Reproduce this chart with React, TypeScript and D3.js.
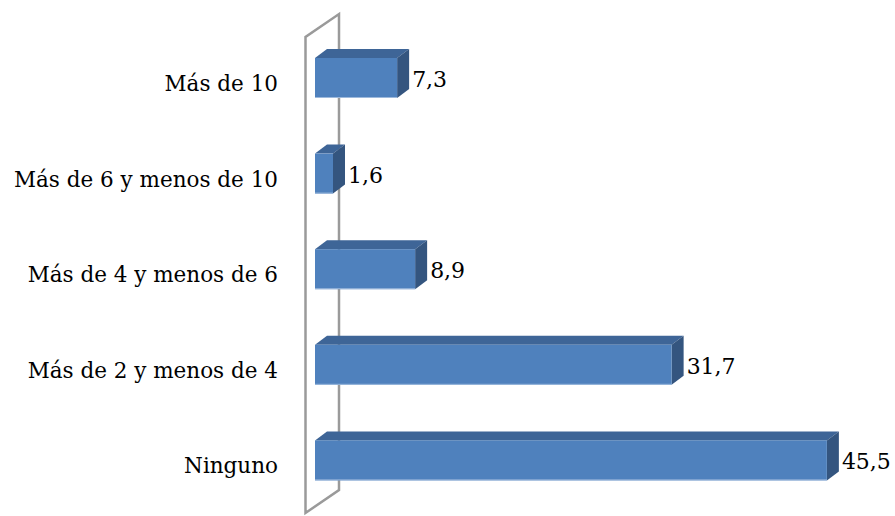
import React from "react";
import * as d3 from "d3";

const categories = ["Más de 10", "Más de 6 y menos de 10", "Más de 4 y menos de 6", "Más de 2 y menos de 4", "Ninguno"];
const values = [7.3, 1.6, 8.9, 31.7, 45.5];
const valueLabels = ["7,3", "1,6", "8,9", "31,7", "45,5"];

const W = 895, H = 516;
const x = d3.scaleLinear().domain([0, 50]).range([315, 877.5]);
const y = d3.scalePoint<string>().domain(categories).range([78, 460.4]);
const barH = 40;
const dX = 12, dY = -9;
const wallX = 305.5, wallDX = 33.5, wallDY = -23, wallTop = 37, wallBottom = 513;
const font = "'DejaVu Serif', 'Liberation Serif', serif";

export default function App() {
  const x0 = x(0);
  const wall = `M${wallX},${wallTop} L${wallX},${wallBottom} L${wallX + wallDX},${wallBottom + wallDY} L${wallX + wallDX},${wallTop + wallDY} Z`;
  return (
    <svg width={W} height={H} style={{ position: "absolute", left: 0, top: 0 }}>
      <rect width={W} height={H} fill="#fff" />
      <path d={wall} fill="none" stroke="#9a9a9a" strokeWidth={2.5} strokeLinejoin="miter" />
      {categories.map((c, i) => {
        const cy = y(c)!;
        const top = cy - barH / 2;
        const bot = cy + barH / 2;
        const xr = x(values[i]);
        return (
          <g key={c}>
            <polygon points={`${x0},${top} ${x0 + dX},${top + dY} ${xr + dX},${top + dY} ${xr},${top}`} fill="#3E6597" />
            <polygon points={`${xr},${top} ${xr + dX},${top + dY} ${xr + dX},${bot + dY} ${xr},${bot}`} fill="#34557F" />
            <rect x={x0} y={top} width={xr - x0} height={barH} fill="#4F81BD" />
            <line x1={x0} x2={xr} y1={bot - 0.5} y2={bot - 0.5} stroke="#9DB9DC" strokeWidth={1} />
            <text x={xr + dX + 3} y={cy + 3} dominantBaseline="middle" fontFamily={font} fontSize={22} fill="#000">{valueLabels[i]}</text>
            <text x={278} y={cy + 7} dominantBaseline="middle" textAnchor="end" fontFamily={font} fontSize={21.5} fill="#000">{c}</text>
          </g>
        );
      })}
    </svg>
  );
}
